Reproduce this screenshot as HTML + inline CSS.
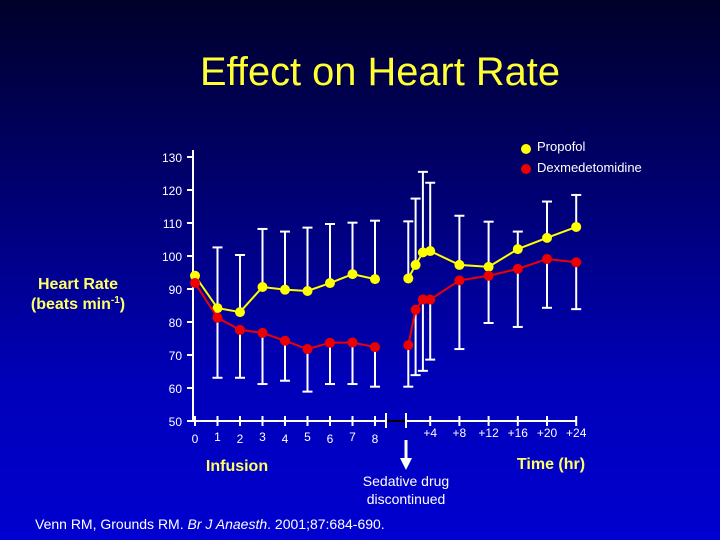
<!DOCTYPE html>
<html><head><meta charset="utf-8"><style>
html,body{margin:0;padding:0;}
body{width:720px;height:540px;overflow:hidden;background:linear-gradient(#00002a 0%,#000070 35%,#0000b8 70%,#0000d0 100%);font-family:"Liberation Sans",Arial,sans-serif;}
svg{position:absolute;left:0;top:0;}
</style></head><body>
<svg id="chart" width="720" height="540">
<text x="380" y="85" text-anchor="middle" fill="#ffff33" font-size="40" textLength="360" lengthAdjust="spacingAndGlyphs">Effect on Heart Rate</text>
<text x="78" y="289" text-anchor="middle" fill="#ffff66" font-size="16" font-weight="bold">Heart Rate</text>
<text x="78" y="309" text-anchor="middle" fill="#ffff66" font-size="16" font-weight="bold">(beats min<tspan font-size="10" dy="-6">-1</tspan><tspan dy="6">)</tspan></text>
<g>
<circle cx="526" cy="149" r="5" fill="#ffff00"/>
<text x="537" y="151" fill="#fff" font-size="13">Propofol</text>
<circle cx="526" cy="169" r="5" fill="#ee0000"/>
<text x="537" y="172" fill="#fff" font-size="13">Dexmedetomidine</text>
</g>
<text x="237" y="471" text-anchor="middle" fill="#ffff66" font-size="16" font-weight="bold">Infusion</text>
<text x="551" y="469" text-anchor="middle" fill="#ffff66" font-size="16" font-weight="bold">Time (hr)</text>
<line x1="406" y1="440" x2="406" y2="460" stroke="#fff" stroke-width="3"/>
<polygon points="400,458 412,458 406,470" fill="#fff"/>
<text x="406" y="486" text-anchor="middle" fill="#fff" font-size="14">Sedative drug</text>
<text x="406" y="504" text-anchor="middle" fill="#fff" font-size="14">discontinued</text>
<text x="35" y="529" fill="#fff" font-size="14">Venn RM, Grounds RM. <tspan font-style="italic">Br J Anaesth</tspan>. 2001;87:684-690.</text>
<g id="g"></g>
</svg>
<script>
const yTicks=[50,60,70,80,90,100,110,120,130];
const infTimes=[0,1,2,3,4,5,6,7,8];
const infLabels=["0","1","2","3","4","5","6","7","8"];
const postTimes=[1,2,3,4,8,12,16,20,24];
const postTickTimes=[4,8,12,16,20,24];
const postLabels=["+4","+8","+12","+16","+20","+24"];
const propInf=[94,84.2,83,90.6,89.8,89.4,91.8,94.5,93];
const propInfUp=[null,102.6,100.3,108.2,107.4,108.6,109.7,110.1,110.7];
const dexInf=[91.8,81.3,77.6,76.7,74.3,71.8,73.7,73.8,72.4];
const dexInfLo=[null,63.1,63.1,61.2,62.2,58.9,61.2,61.2,60.4];
const propPost=[93.2,97.3,101.1,101.5,97.3,96.7,102.1,105.5,108.8];
const propPostUp=[110.5,117.4,125.5,122.2,112.2,110.4,107.4,116.5,118.5];
const dexPost=[73,83.7,86.8,86.8,92.6,94,96.1,99.1,98.1];
const dexPostLo=[60.4,63.9,65.2,68.6,71.8,79.7,78.5,84.3,83.9];

const y=v=>421-(v-50)*3.3;
const xInf=t=>195+t*22.5;
const xPost=t=>401+t*7.3;
const g=document.getElementById('g');
const NS='http://www.w3.org/2000/svg';
function mk(tag,a){const e=document.createElementNS(NS,tag);for(const k in a)e.setAttribute(k,a[k]);g.appendChild(e);return e;}
let e=mk('line',{x1:193,y1:150,x2:193,y2:421,stroke:'#fff','stroke-width':2});

e=mk('line',{x1:193,y1:421,x2:386,y2:421,stroke:'#fff','stroke-width':2});

e=mk('line',{x1:386,y1:421,x2:406,y2:421,stroke:'#000','stroke-width':2});

e=mk('line',{x1:406,y1:421,x2:577,y2:421,stroke:'#fff','stroke-width':2});

[386,406].forEach(xx=>{e=mk('line',{x1:xx,y1:413,x2:xx,y2:428,stroke:'#fff','stroke-width':2});
});
yTicks.forEach(v=>{
 e=mk('line',{x1:187,y1:y(v),x2:193,y2:y(v),stroke:'#fff','stroke-width':2});
 
 e=mk('text',{x:182,y:y(v)+5,'text-anchor':'end',fill:'#fff','font-size':12});e.textContent=v;
 
});
infTimes.forEach((t,i)=>{
 e=mk('line',{x1:xInf(t),y1:416,x2:xInf(t),y2:426,stroke:'#fff','stroke-width':2});
 
 e=mk('text',{x:xInf(t),y:i%2?441:443,'text-anchor':'middle',fill:'#fff','font-size':12});e.textContent=infLabels[i];
 
});
postTickTimes.forEach((t,i)=>{
 e=mk('line',{x1:xPost(t),y1:416,x2:xPost(t),y2:426,stroke:'#fff','stroke-width':2});
 
 e=mk('text',{x:xPost(t),y:437,'text-anchor':'middle',fill:'#fff','font-size':12});e.textContent=postLabels[i];
 
});
function series(times,xf,vals,errs,color,name){
 times.forEach((t,i)=>{if(errs[i]==null)return;
  e=mk('line',{x1:xf(t),y1:y(vals[i]),x2:xf(t),y2:y(errs[i]),stroke:'#fff','stroke-width':2});
  
  e=mk('line',{x1:xf(t)-5,y1:y(errs[i]),x2:xf(t)+5,y2:y(errs[i]),stroke:'#fff','stroke-width':2});
  
 });
 e=mk('polyline',{points:times.map((t,i)=>xf(t)+','+y(vals[i])).join(' '),fill:'none',stroke:color,'stroke-width':2});
 
 times.forEach((t,i)=>{e=mk('circle',{cx:xf(t),cy:y(vals[i]),r:5,fill:color});
  });
}
series(infTimes,xInf,propInf,propInfUp,'#ffff00','propofol');
series(infTimes,xInf,dexInf,dexInfLo,'#ee0000','dex');
series(postTimes,xPost,propPost,propPostUp,'#ffff00','propofol-post');
series(postTimes,xPost,dexPost,dexPostLo,'#ee0000','dex-post');
</script>
</body></html>
